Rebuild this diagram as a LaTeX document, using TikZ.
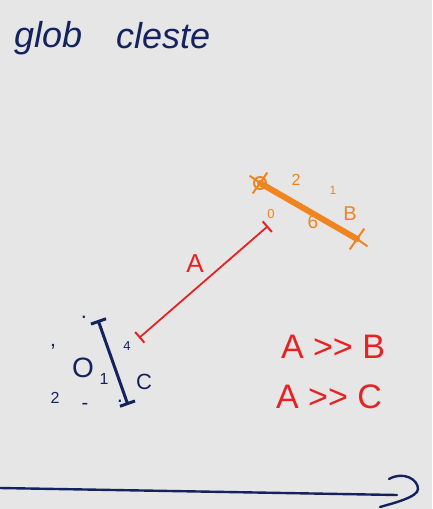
\documentclass[tikz,border=0pt]{standalone}
\usepackage{fontspec}
\setmainfont{Liberation Sans}
\usepackage{tikz}
\usetikzlibrary{arrows.meta,calc,shapes.misc}
\usepackage{xcolor}
\definecolor{inknavy}{HTML}{14235F}
\definecolor{inkorange}{HTML}{F0841E}
\definecolor{inkred}{HTML}{E62222}
\definecolor{paper}{HTML}{E6E6E6}
\tikzset{
  titletext/.style={
    text=inknavy,
    font=\fontsize{36}{36}\selectfont\itshape,
    anchor=west,
    inner sep=0pt
  },
  navylabel/.style={
    text=inknavy,
    font=\fontsize{16}{16}\selectfont,
    inner sep=0pt
  },
  orangelabel/.style={
    text=inkorange,
    font=\fontsize{16}{16}\selectfont,
    inner sep=0pt
  },
  redlabel/.style={
    text=inkred,
    font=\fontsize{34}{34}\selectfont,
    inner sep=0pt
  },
  endcross/.style={
    cross out,
    draw=inkorange,
    line width=2pt,
    minimum size=16pt,
    inner sep=0pt
  },
  clusterline/.style={
    line width=6pt,
    draw=inkorange,
    line cap=round
  },
  distline/.style={
    {Bar[width=14pt,line width=2pt]}-{Bar[width=14pt,line width=2pt]},
    line width=1.8pt,
    draw=inkred
  },
  navyline/.style={
    {Bar[width=16pt,line width=3pt]}-{Bar[width=16pt,line width=3pt]},
    line width=3pt,
    draw=inknavy
  },
  axisline/.style={
    line width=2.4pt,
    draw=inknavy,
    line cap=round
  }
}

\begin{document}
\begin{tikzpicture}[x=1pt,y=-1pt]
\fill[paper] (0,0) rectangle (432,509);
\useasboundingbox (0,0) rectangle (432,509);
% title
\node[titletext] (glob) at (14,38) {glob};
\node[titletext] (cleste) at (116,36) {cleste};
% orange cluster
\coordinate (bleft) at (260,183);
\coordinate (bright) at (357,239);
\draw[clusterline] (bleft) -- (bright);
\node[endcross, rotate=10] (bleftx) at (bleft) {};
\node[endcross, rotate=10] (brightx) at (bright) {};
\draw[inkorange, line width=2pt] (bleft) circle (6pt);
\node[orangelabel] (ob2) at (296,180) {2};
\node[orangelabel, font=\fontsize{12}{12}\selectfont] (ob1) at (333,190) {1};
\node[orangelabel, font=\fontsize{20}{20}\selectfont] (obB) at (350,214) {B};
\node[orangelabel, font=\fontsize{19}{19}\selectfont] (ob6) at (313,222) {6};
\node[orangelabel, font=\fontsize{13}{13}\selectfont] (ob0) at (271,214) {0};
% red distance
\coordinate (redlow) at (139,338);
\coordinate (redhigh) at (268,226);
\draw[distline] (redlow) -- (redhigh);
\node[redlabel, font=\fontsize{26}{26}\selectfont] (labA) at (195,264) {A};
% navy cluster
\coordinate (ctop) at (98,320);
\coordinate (cbot) at (128,405);
\draw[navyline] (ctop) -- (cbot);
\node[navylabel, font=\fontsize{28}{28}\selectfont] (cO) at (83,368) {O};
\node[navylabel] (c1) at (104,379) {1};
\node[navylabel, font=\fontsize{22}{22}\selectfont] (cC) at (144,382) {C};
\node[navylabel] (c2) at (55,398) {2};
\node[navylabel, font=\fontsize{13}{13}\selectfont] (c4) at (127,346) {4};
\node[navylabel, font=\fontsize{22}{22}\selectfont] (ctick) at (53,352) {'};
\node[navylabel, font=\fontsize{20}{20}\selectfont] (cdash) at (85,406) {-};
\node[navylabel, font=\fontsize{22}{22}\selectfont] (cdot) at (120,401) {.};
\node[navylabel, font=\fontsize{22}{22}\selectfont] (cdot2) at (84,317) {.};
% relations
\node[redlabel] (ab) at (333,347) {A {>}{>} B};
\node[redlabel] (ac) at (329,397) {A {>}{>} C};
% axis
\coordinate (axisstart) at (0,488);
\coordinate (axisend) at (397,495);
\draw[axisline] (axisstart) -- (axisend);
\draw[axisline] ($(axisend)+(-8,-16)$) .. controls +(14,-8) and +(0,-10) .. ($(axisend)+(21,-6)$) .. controls +(0,8) and +(14,-4) .. ($(axisend)+(-17,12)$);
\end{tikzpicture}
\end{document}
